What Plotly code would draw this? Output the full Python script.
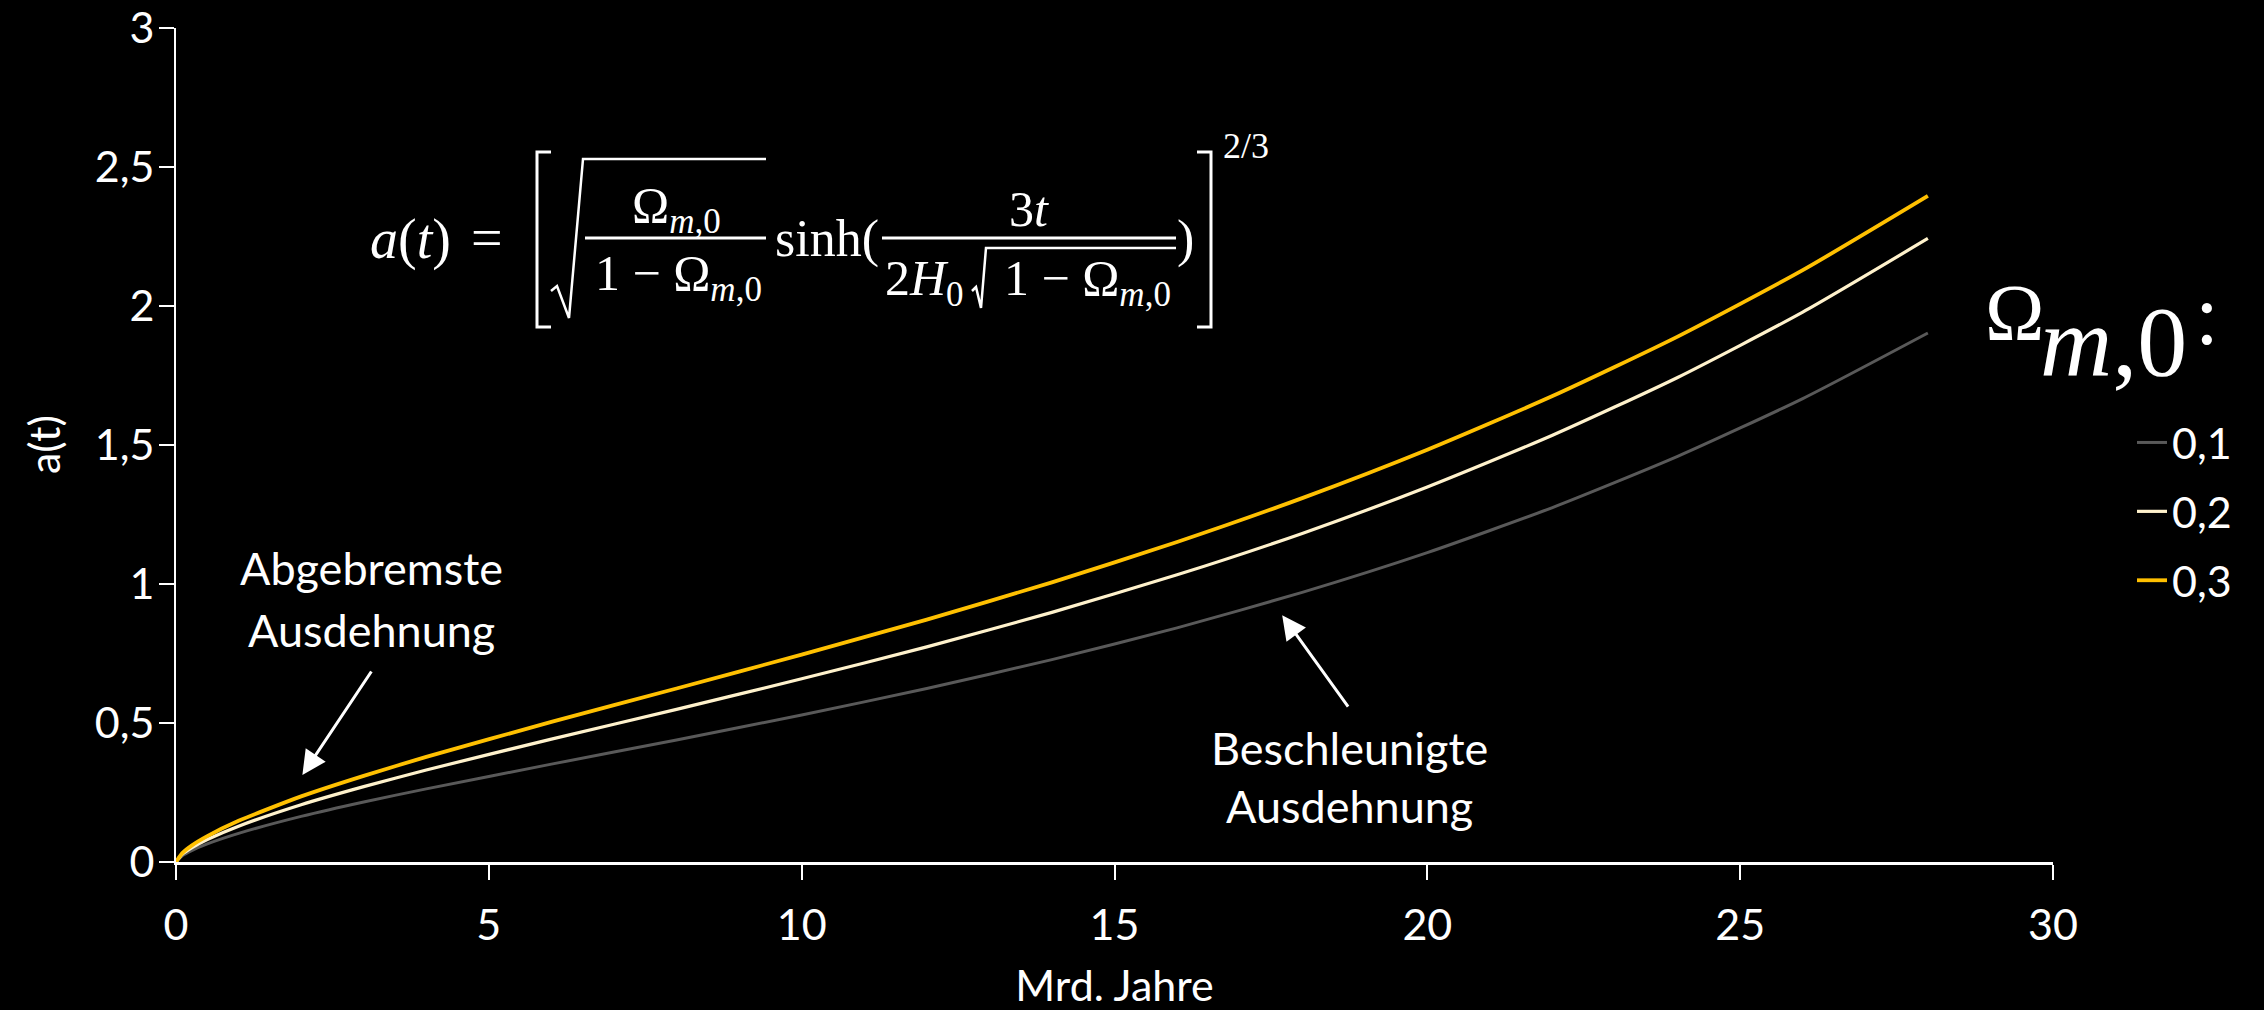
import plotly.graph_objects as go

# ---------------- data ----------------
t_gyr = [0, 0.1, 0.25, 0.5, 1, 2, 3, 4, 6, 8, 10, 12, 14, 16, 18, 20, 22, 24, 26, 28]
a_omega_01 = [0, 0.022, 0.041, 0.065, 0.103, 0.164, 0.216, 0.263, 0.352, 0.439, 0.529,
              0.624, 0.728, 0.842, 0.970, 1.113, 1.275, 1.459, 1.667, 1.903]
a_omega_02 = [0, 0.028, 0.051, 0.081, 0.129, 0.206, 0.271, 0.331, 0.442, 0.549, 0.659,
              0.774, 0.898, 1.033, 1.182, 1.349, 1.535, 1.743, 1.978, 2.243]
a_omega_03 = [0, 0.032, 0.059, 0.093, 0.148, 0.236, 0.310, 0.378, 0.504, 0.624, 0.746,
              0.872, 1.006, 1.151, 1.309, 1.483, 1.676, 1.890, 2.129, 2.396]
series_names = ["0,1", "0,2", "0,3"]

x_tickvals = [0, 5, 10, 15, 20, 25, 30]
x_ticktext = ["0", "5", "10", "15", "20", "25", "30"]
y_tickvals = [0, 0.5, 1, 1.5, 2, 2.5, 3]
y_ticktext = ["0", "0,5", "1", "1,5", "2", "2,5", "3"]

# ---------------- layout geometry ----------------
W, H = 2264, 1010
L, R, T, B = 176, 211, 28, 148
PW, PH = W - L - R, H - T - B

def px(x):
    return (x - L) / PW

def py(y):
    return (H - B - y) / PH

SANS = "Lato"
SERIF = "Liberation Serif"
WHITE = "#FFFFFF"
colors = ["#595959", "#FFF2CC", "#FFC000"]
widths = [3.0, 3.2, 3.8]

fig = go.Figure()
for name, ys, c, w in zip(series_names, [a_omega_01, a_omega_02, a_omega_03], colors, widths):
    fig.add_trace(go.Scatter(
        x=t_gyr, y=ys, mode="lines", name=name, legendgroup=name,
        line=dict(color=c, width=w, shape="spline", smoothing=0.6),
        hoverinfo="skip",
    ))

annotations = []

def txt(text, x, y, size, family=SANS, xanchor="center", yanchor="middle", angle=0):
    annotations.append(dict(
        text=text, x=px(x), y=py(y), xref="paper", yref="paper",
        xanchor=xanchor, yanchor=yanchor, showarrow=False, textangle=angle,
        font=dict(family=family, size=size, color=WHITE),
    ))

# y axis title
txt("a(t)", 43, 445, 43, angle=-90)

# text annotations
txt("Abgebremste", 371, 568, 45)
txt("Ausdehnung", 371, 630, 45)
txt("Beschleunigte", 1349, 748, 45)
txt("Ausdehnung", 1349, 806, 45)

# arrows (head in data coordinates, tail offset in pixels)
annotations.append(dict(x=2.02, y=0.313, xref="x", yref="y", ax=70, ay=-105,
                        text="", showarrow=True, arrowhead=2, arrowsize=1.6,
                        arrowwidth=3, arrowcolor=WHITE))
annotations.append(dict(x=17.68, y=0.888, xref="x", yref="y", ax=67, ay=93,
                        text="", showarrow=True, arrowhead=2, arrowsize=1.6,
                        arrowwidth=3, arrowcolor=WHITE))

# formula pieces
OM = "Ω<sub><i>m</i>,0</sub>"
txt("<i>a</i>(<i>t</i>)", 410, 240, 56, SERIF)
txt("=", 487, 238, 56, SERIF)
txt(OM, 676, 209, 50, SERIF)
txt("1 − " + OM, 678, 277, 50, SERIF)
txt("sinh(", 827, 239, 52, SERIF)
txt("3<i>t</i>", 1029, 209, 50, SERIF)
txt("2<i>H</i><sub>0</sub>", 924, 282, 50, SERIF)
txt("1 − " + OM, 1087, 282, 50, SERIF)
txt(")", 1185, 239, 52, SERIF)
txt("2/3", 1246, 146, 36, SERIF)

# legend title
txt("Ω", 2014, 313, 80, SERIF)
txt("<i>m</i>,0", 2113, 341, 100, SERIF)
txt(":", 2207, 315, 86, SERIF)

shapes = []

def path(points_cmd, width):
    shapes.append(dict(type="path", xref="paper", yref="paper", path=points_cmd,
                       line=dict(color=WHITE, width=width)))

def P(x, y):
    return f"{px(x):.5f},{py(y):.5f}"

# brackets
path(f"M{P(551,152)} L{P(537,152)} L{P(537,327)} L{P(551,327)}", 3)
path(f"M{P(1197,152)} L{P(1211,152)} L{P(1211,327)} L{P(1197,327)}", 3)
# radicals
path(f"M{P(551,291)} L{P(557,286)} L{P(569,318)} L{P(583,159)} L{P(766,159)}", 2.5)
path(f"M{P(972,291)} L{P(976,287)} L{P(981,308)} L{P(986,248)} L{P(1176,248)}", 2.5)
# fraction bars
path(f"M{P(585,238)} L{P(766,238)}", 3)
path(f"M{P(882,238)} L{P(1176,238)}", 3)

fig.update_layout(
    width=W, height=H,
    margin=dict(l=L, r=R, t=T, b=B, autoexpand=False),
    paper_bgcolor="#000000", plot_bgcolor="#000000",
    font=dict(family=SANS, size=43, color=WHITE),
    showlegend=True,
    legend=dict(x=px(2132), y=py(408), xanchor="left", yanchor="top",
                bgcolor="rgba(0,0,0,0)", font=dict(family=SANS, size=43, color=WHITE),
                tracegroupgap=10, traceorder="grouped"),
    annotations=annotations,
    shapes=shapes,
    xaxis=dict(
        range=[0, 30], tickvals=x_tickvals, ticktext=x_ticktext,
        showgrid=False, zeroline=False, showline=True, linecolor=WHITE, linewidth=3,
        ticks="outside", ticklen=15, tickwidth=2, tickcolor=WHITE,
        tickfont=dict(family=SANS, size=43, color=WHITE), ticklabelstandoff=8,
        title=dict(text="Mrd. Jahre", font=dict(family=SANS, size=43, color=WHITE), standoff=49),
        automargin=False,
    ),
    yaxis=dict(
        range=[0, 3], tickvals=y_tickvals, ticktext=y_ticktext,
        showgrid=False, zeroline=False, showline=True, linecolor=WHITE, linewidth=2,
        ticks="outside", ticklen=15, tickwidth=2, tickcolor=WHITE,
        tickfont=dict(family=SANS, size=43, color=WHITE), ticklabelstandoff=-4,
        automargin=False,
    ),
)

fig.write_html("out.html", config={"displayModeBar": False},
               post_script="document.body.style.margin='0';")
